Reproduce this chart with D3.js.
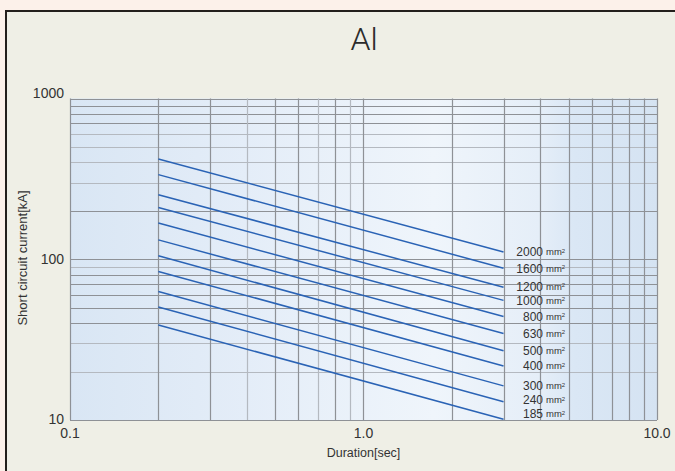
<!DOCTYPE html>
<html>
<head>
<meta charset="utf-8">
<script src="https://cdn.jsdelivr.net/npm/d3@7"></script>
<style>
  html, body { margin: 0; padding: 0; background: #fcf1ea; }
  svg { display: block; }
  text { font-family: "Liberation Sans", Arial, Helvetica, sans-serif; fill: #333; }
</style>
</head>
<body>
<svg id="chart" width="675" height="471"></svg>
<script>
// ---- data ----
const title = "Al";
const sizes = ["2000", "1600", "1200", "1000", "800", "630", "500", "400", "300", "240", "185"];
const durations = [0.2, 3.0];
const currentAt02 = [420, 336, 252, 210, 168, 132, 105, 84, 63, 50.4, 39];
const currentAt3 = [111, 88, 67, 55.5, 44, 34.5, 27, 21.7, 16.3, 13, 10.1];
const xTickValues = [0.1, 1, 10];
const xTickLabels = ["0.1", "1.0", "10.0"];
const yTickValues = [10, 100, 1000];
const yTickLabels = ["10", "100", "1000"];
const xLabel = "Duration[sec]";
const yLabel = "Short circuit current[kA]";
const unitLabel = "mm";

// ---- layout ----
const svg = d3.select("#chart");
const W = 675, H = 471;
const pL = 70, pR = 657, pT = 98.5, pB = 420;

svg.append("rect").attr("x", 0).attr("y", 0).attr("width", W).attr("height", H).attr("fill", "#fcf1ea");
svg.append("rect").attr("x", 6).attr("y", 11).attr("width", W + 10).attr("height", H)
  .attr("fill", "#efefe6").attr("stroke", "#231f1c").attr("stroke-width", 2);

const x = d3.scaleLog().domain([0.1, 10]).range([pL, pR]);
const y = d3.scaleLog().domain([10, 1000]).range([pB, pT]);

// background gradient
const defs = svg.append("defs");
const grad = defs.append("linearGradient").attr("id", "bg").attr("x1", "0").attr("x2", "1").attr("y1", "0").attr("y2", "0");
[[0, "#d9e6f4"], [0.3, "#e4edf8"], [0.62, "#eff5fb"], [0.8, "#e5eef8"], [0.86, "#dae7f5"], [1, "#d5e3f2"]]
  .forEach(([o, c]) => grad.append("stop").attr("offset", o).attr("stop-color", c));
svg.append("rect").attr("x", pL).attr("y", pT).attr("width", pR - pL).attr("height", pB - pT)
  .attr("fill", "url(#bg)");

// gridlines
const yGrid = [];
for (let d = 10; d < 1000; d *= 10) for (let k = 1; k < 10; k++) yGrid.push(k * d);
yGrid.push(1000);
const yDark = new Set([10, 100, 80, 70, 60, 50, 40, 200, 700, 800, 900, 1000]);
const xGrid = [];
for (let d = 0.1; d < 9; d *= 10) for (let k = 1; k < 10; k++) xGrid.push(+(k * d).toFixed(3));
xGrid.push(10);
const xDark = new Set([0.1, 0.2, 0.3, 0.5, 0.6, 0.8, 1, 2, 3, 4, 5, 6, 7, 8, 9, 10]);

const grid = svg.append("g");
grid.selectAll("line.h").data(yGrid).join("line")
  .attr("x1", pL).attr("x2", pR)
  .attr("y1", d => Math.round(y(d)) + 0.5).attr("y2", d => Math.round(y(d)) + 0.5)
  .attr("stroke", d => yDark.has(d) ? "#8e9196" : "#b4b9c0").attr("stroke-width", 1.2);
grid.selectAll("line.v").data(xGrid).join("line")
  .attr("y1", pT).attr("y2", pB)
  .attr("x1", d => Math.round(x(d)) + 0.5).attr("x2", d => Math.round(x(d)) + 0.5)
  .attr("stroke", d => xDark.has(d) ? "#8e9196" : "#b4b9c0").attr("stroke-width", 1.2);

// series lines
const series = sizes.map((s, i) => ({ size: s, pts: [[durations[0], currentAt02[i]], [durations[1], currentAt3[i]]] }));
const line = d3.line().x(d => x(d[0])).y(d => y(d[1]));
svg.append("g").selectAll("path").data(series).join("path")
  .attr("d", d => line(d.pts))
  .attr("fill", "none").attr("stroke", "#2a63b5").attr("stroke-width", 1.5);

// series labels: placed at line ends, pushed apart from the bottom up
const labelY = series.map(d => y(d.pts[1][1]));
const minGap = 14;
for (let i = labelY.length - 1; i >= 0; i--) {
  const limit = i === labelY.length - 1 ? pB - 6 : labelY[i + 1] - minGap;
  labelY[i] = Math.min(labelY[i], limit);
}
const lab = svg.append("g").selectAll("g").data(series).join("g")
  .attr("transform", (d, i) => `translate(543,${labelY[i]})`);
lab.append("text").attr("text-anchor", "end").attr("dy", "0.36em")
  .style("font-size", "12px").text(d => d.size);
const u = lab.append("text").attr("x", 3).attr("dy", "0.36em").style("font-size", "9.5px");
u.append("tspan").text(unitLabel);
u.append("tspan").attr("dy", "-0.45em").style("font-size", "6px").text("2");

// axes ticks
svg.append("g").selectAll("text").data(yTickValues).join("text")
  .attr("x", 64).attr("y", (d, i) => y(d) + (i === 2 ? -1 : 3))
  .attr("text-anchor", "end").style("font-size", "14px")
  .attr("dy", (d, i) => i === 2 ? "0" : "0.1em")
  .text((d, i) => yTickLabels[i]);
svg.append("g").selectAll("text").data(xTickValues).join("text")
  .attr("x", d => x(d)).attr("y", 437.5)
  .attr("text-anchor", "middle").style("font-size", "14px")
  .text((d, i) => xTickLabels[i]);

// axis titles
svg.append("text").attr("x", x(1)).attr("y", 456.5).attr("text-anchor", "middle")
  .style("font-size", "12.5px").text(xLabel);
svg.append("text").attr("transform", `translate(27,258) rotate(-90)`).attr("text-anchor", "middle")
  .style("font-size", "13px").text(yLabel);

// title
svg.append("text").attr("x", 364).attr("y", 50).attr("text-anchor", "middle")
  .style("font-family", "Roboto, 'Open Sans', sans-serif").style("font-weight", 300)
  .style("font-size", "32px").style("fill", "#2b2b2b").text(title);
</script>
</body>
</html>
